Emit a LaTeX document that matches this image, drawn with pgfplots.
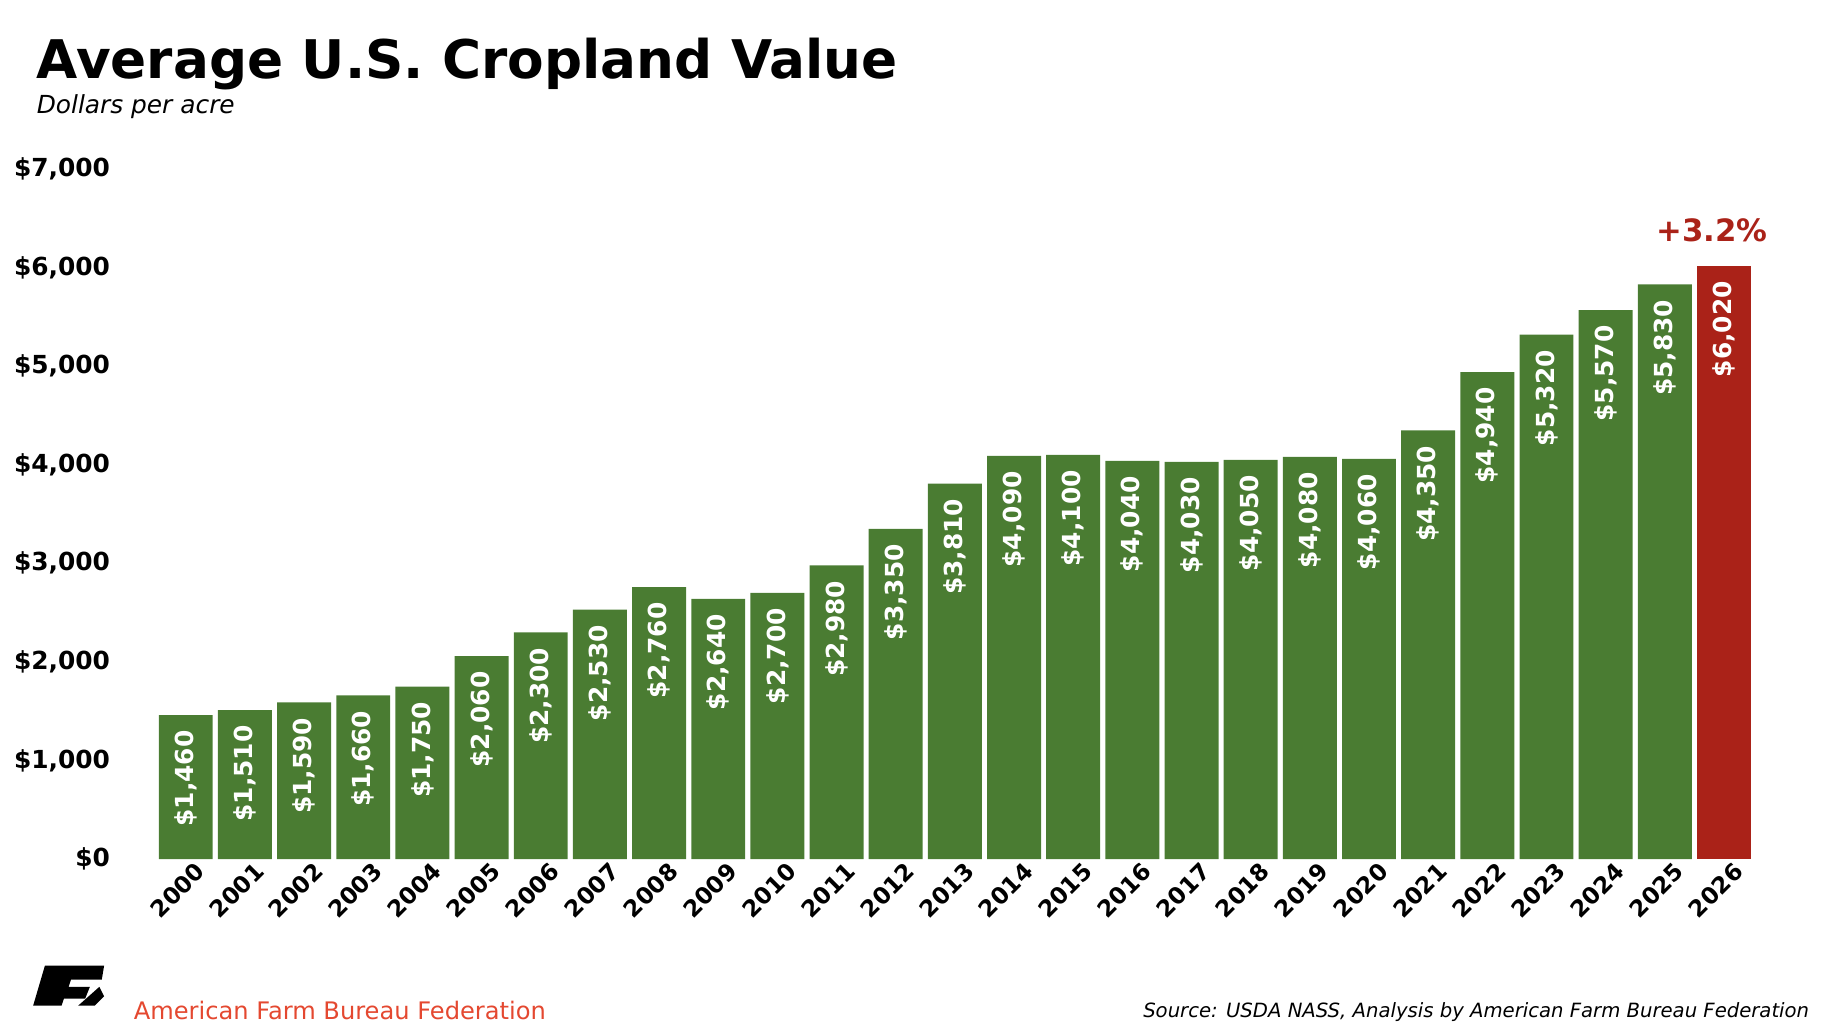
\documentclass[border=0pt]{standalone}
\usepackage{pgfplots}
\pgfplotsset{compat=1.18}
\usepackage{fontspec}
\setmainfont{DejaVu Sans}
\definecolor{bargreen}{RGB}{74,124,50}
\definecolor{barred}{RGB}{170,34,24}
\definecolor{afbf}{RGB}{228,72,48}
\begin{document}
\begin{tikzpicture}
\path (0,0) rectangle (775pt,435pt);
\node[anchor=base west,font=\bfseries\fontsize{22.5}{26}\selectfont] at (12pt,402pt) {Average U.S. Cropland Value};
\node[anchor=base west,font=\itshape\fontsize{10.5}{13}\selectfont] at (12pt,387pt) {Dollars per acre};
\begin{axis}[at={(66pt,72pt)},anchor=south west,scale only axis,width=675pt,height=291.5pt,
 ybar, bar width=22.8pt, bar shift=0pt,
 xmin=-0.5,xmax=26.5,ymin=0,ymax=7000,
 axis line style={draw=none}, tick style={draw=none},
 ytick={0,1000,...,7000},
 yticklabel={\$\pgfmathprintnumber[1000 sep={,}]{\tick}},
 yticklabel style={font=\bfseries\fontsize{10.5}{12}\selectfont, xshift=-16pt},
 xtick={0,...,26},
 xticklabels={2000,2001,2002,2003,2004,2005,2006,2007,2008,2009,2010,2011,2012,2013,2014,2015,2016,2017,2018,2019,2020,2021,2022,2023,2024,2025,2026},
 xticklabel style={rotate=45,anchor=north east,font=\bfseries\fontsize{9.8}{11}\selectfont,xshift=6pt,yshift=1pt,inner sep=1pt},
 /pgf/number format/assume math mode=true,
 nodes near coords={\$\pgfmathprintnumber[1000 sep={,}]{\pgfplotspointmeta}},
 every node near coord/.append style={rotate=90,anchor=east,text=white,font=\bfseries\fontsize{10.5}{12}\selectfont,xshift=-3pt},
 clip=false]
\addplot[fill=bargreen,draw=none] coordinates {(0,1460)(1,1510)(2,1590)(3,1660)(4,1750)(5,2060)(6,2300)(7,2530)(8,2760)(9,2640)(10,2700)(11,2980)(12,3350)(13,3810)(14,4090)(15,4100)(16,4040)(17,4030)(18,4050)(19,4080)(20,4060)(21,4350)(22,4940)(23,5320)(24,5570)(25,5830)};
\addplot[fill=barred,draw=none] coordinates {(26,6020)};
\node[anchor=south,text=barred,font=\bfseries\fontsize{13}{15}\selectfont] at (axis cs:25.8,6180) {+3.2\%};
\end{axis}
\fill (14pt,10pt) -- (19pt,27pt) -- (44pt,27pt) -- (43pt,21pt) -- (30pt,21pt) -- (29pt,18pt) -- (38pt,18pt) -- (36pt,13pt) -- (27pt,13pt) -- (26pt,10pt) -- cycle;
\fill (33pt,10pt) -- (40pt,10pt) -- (44pt,14pt) -- (42pt,18pt) -- cycle;
\node[anchor=base west,text=afbf,font=\fontsize{10.2}{12}\selectfont] at (53pt,4pt) {American Farm Bureau Federation};
\node[anchor=base east,font=\itshape\fontsize{8.3}{10}\selectfont] at (768pt,5pt) {Source: USDA NASS, Analysis by American Farm Bureau Federation};
\end{tikzpicture}
\end{document}
